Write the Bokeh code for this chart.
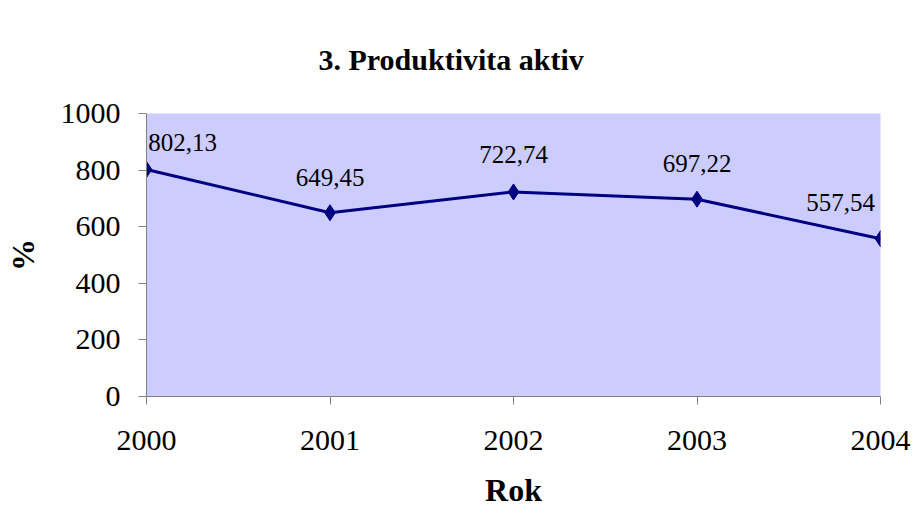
from bokeh.plotting import figure
from bokeh.models import Range1d, ColumnDataSource, FixedTicker, Title
from bokeh.embed import file_html
from bokeh.resources import INLINE

years = [2000, 2001, 2002, 2003, 2004]
values = [802.13, 649.45, 722.74, 697.22, 557.54]
labels = ["802,13", "649,45", "722,74", "697,22", "557,54"]
y_ticks = [0, 200, 400, 600, 800, 1000]

# label shifts in pixels (style only)
x_offsets = [36, 0, 0, 0, -40]
y_offsets = [-27, -35, -37, -36, -36]

FONT = "Liberation Serif"

p = figure(width=914, height=513, output_backend="svg", toolbar_location=None,
           x_range=Range1d(2000, 2004), y_range=Range1d(0, 1000),
           min_border_left=146, min_border_right=34, min_border_top=113,
           min_border_bottom=117, title=None)

t = Title(text="3. Produktivita aktiv", align="left", offset=172,
          text_font=FONT, text_font_size="30px", text_font_style="bold",
          text_color="black", standoff=75)
p.add_layout(t, "above")

p.background_fill_color = "#CCCCFF"
p.border_fill_color = "white"
p.outline_line_color = None
p.grid.visible = False

for ax in (p.xaxis[0], p.yaxis[0]):
    ax.axis_line_color = "#808080"
    ax.major_tick_line_color = "#808080"
    ax.minor_tick_line_color = None
    ax.major_tick_out = 8
    ax.major_tick_in = 0
    ax.major_label_text_font = FONT
    ax.major_label_text_font_size = "30px"
    ax.major_label_text_color = "black"
    ax.axis_label_text_font = FONT
    ax.axis_label_text_font_size = "32px"
    ax.axis_label_text_font_style = "bold"
    ax.axis_label_text_color = "black"

p.xaxis.ticker = FixedTicker(ticks=years)
p.yaxis.ticker = FixedTicker(ticks=y_ticks)
p.xaxis.axis_label = "Rok"
p.yaxis.axis_label = "%"
p.xaxis.major_label_standoff = 26
p.yaxis.major_label_standoff = 18
p.xaxis.axis_label_standoff = 19
p.yaxis.axis_label_standoff = 17

src = ColumnDataSource(dict(x=years, y=values, t=labels, xo=x_offsets, yo=y_offsets))
p.line("x", "y", source=src, line_color="#000080", line_width=3)
p.scatter("x", "y", source=src, marker="diamond", size=16, color="#000080")
p.text("x", "y", text="t", source=src, x_offset="xo", y_offset="yo",
       text_align="center", text_baseline="middle", text_font_size="25px",
       text_font={"value": FONT}, text_color="black")

open("out.html", "w").write(file_html(p, INLINE))
